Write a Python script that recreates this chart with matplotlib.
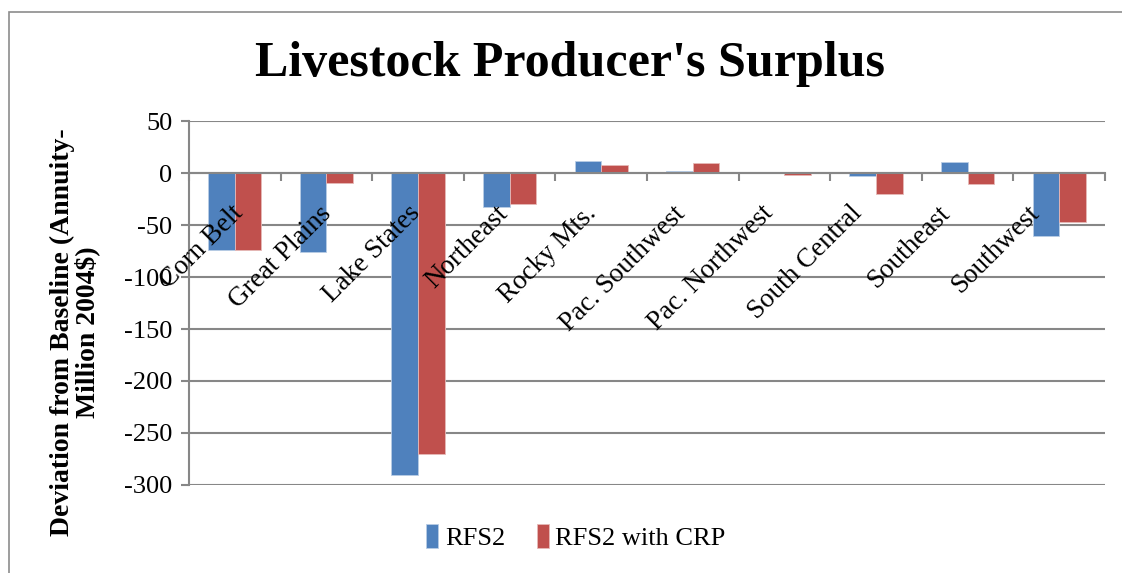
import numpy as np
import matplotlib
matplotlib.use('Agg')
import matplotlib.pyplot as plt
from matplotlib.patches import Rectangle
import matplotlib.transforms as mtransforms

regions = ['Corn Belt', 'Great Plains', 'Lake States', 'Northeast', 'Rocky Mts.',
           'Pac. Southwest', 'Pac. Northwest', 'South Central', 'Southeast', 'Southwest']
rfs2 = [-74, -76, -290, -33, 12, 1.5, 0, -2.5, 11, -61]
rfs2_crp = [-74, -10, -270, -30, 8, 10, -1.5, -20, -11, -47]
yticks = [50, 0, -50, -100, -150, -200, -250, -300]

plt.rcParams['font.family'] = ['Liberation Serif', 'DejaVu Serif']

fig = plt.figure(figsize=(11.22, 5.73), dpi=100)
ax = fig.add_axes([0.1684, 0.1536, 0.8164, 0.6352])

# outer chart border (only left/top visible in the crop)
fig.patches.append(Rectangle((9 / 1122, -0.1), 1.2, 1.1 - 12 / 573,
                             transform=fig.transFigure, fill=False,
                             edgecolor='#8c8c8c', linewidth=1.2))

x = np.arange(len(regions))
w = 0.29
ax.bar(x - w / 2, rfs2, w, color='#4F81BD', edgecolor='#b9cde5', linewidth=0.6,
       label='RFS2', zorder=3)
ax.bar(x + w / 2, rfs2_crp, w, color='#C0504D', edgecolor='#e6b9b8', linewidth=0.6,
       label='RFS2 with CRP', zorder=3)

ax.set_xlim(-0.5, len(regions) - 0.5)
ax.set_ylim(-300, 50)
ax.set_yticks(yticks)
ax.set_yticklabels([str(t) for t in yticks], fontsize=19)
ax.yaxis.grid(True, color='#878787', linewidth=1.5, zorder=0)
ax.set_axisbelow(True)

for s in ['top', 'right']:
    ax.spines[s].set_visible(False)
ax.spines['left'].set_color('#878787')
ax.spines['left'].set_linewidth(1.5)
ax.spines['bottom'].set_position(('data', 0))
ax.spines['bottom'].set_color('#878787')
ax.spines['bottom'].set_linewidth(1.5)
ax.spines['bottom'].set_zorder(4)

ax.set_xticks(np.arange(len(regions) + 1) - 0.5)
ax.set_xticklabels([])
ax.tick_params(axis='x', direction='out', length=6, width=1.5, color='#878787')
ax.tick_params(axis='y', direction='out', length=6, width=1.5, color='#878787', pad=6)

# rotated category labels, slightly compressed spacing like the source
label_x = 0.06 + x * 0.965
off = mtransforms.offset_copy(ax.transData, fig=fig, x=8, y=-28, units='dots')
for lx, name in zip(label_x, regions):
    ax.text(lx, 0, name, rotation=45, ha='right', va='top', fontsize=19.5,
            transform=off, zorder=5)

fig.text(0.508, 0.888, "Livestock Producer's Surplus", ha='center', va='center',
         fontsize=36, fontweight='bold')

fig.text(0.067, 0.42, 'Deviation from Baseline (Annuity-\nMillion 2004$)',
         rotation=90, ha='center', va='center', fontsize=20, fontweight='bold',
         linespacing=0.95)

fig.legend(loc='center', bbox_to_anchor=(576 / 1122, 1 - 537 / 573), ncol=2,
           frameon=False, fontsize=19, handlelength=0.45, handleheight=1.0,
           handletextpad=0.25, columnspacing=1.2)

fig.savefig('out.png', dpi=100)
